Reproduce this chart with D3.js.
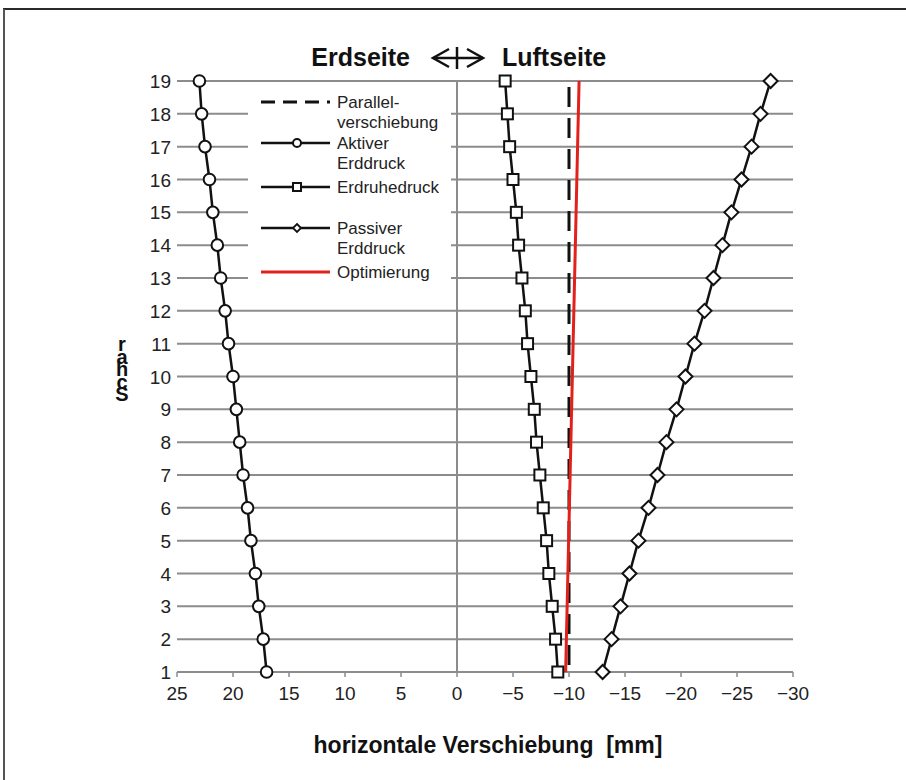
<!DOCTYPE html>
<html><head><meta charset="utf-8">
<script src="https://cdn.jsdelivr.net/npm/d3@7"></script>
<style>
html,body{margin:0;padding:0;background:#fff;}
svg{display:block;font-family:"Liberation Sans",Arial,sans-serif;}
</style></head>
<body>
<svg id="c" width="906" height="780"></svg>
<script>
// ---- data ----
const rows = [1,2,3,4,5,6,7,8,9,10,11,12,13,14,15,16,17,18,19];
const aktiver = [17.0,17.3,17.7,18.0,18.4,18.7,19.1,19.4,19.7,20.0,20.4,20.7,21.1,21.4,21.8,22.1,22.5,22.8,23.0];
const erdruhe = [-9.0,-8.8,-8.5,-8.2,-8.0,-7.7,-7.4,-7.1,-6.9,-6.6,-6.3,-6.1,-5.8,-5.5,-5.3,-5.0,-4.7,-4.5,-4.3];
const passiver = [-13.0,-13.8,-14.6,-15.4,-16.2,-17.1,-17.9,-18.7,-19.6,-20.4,-21.2,-22.1,-22.9,-23.7,-24.5,-25.4,-26.3,-27.1,-28.0];
const parallelRows = [1,19];
const parallel = [-10,-10];
const optRows = [1,19];
const optimierung = [-9.7,-10.9];
const xTicks = [25,20,15,10,5,0,-5,-10,-15,-20,-25,-30];
const legendLabels = [["Parallel-","verschiebung"],["Aktiver","Erddruck"],["Erdruhedruck"],["Passiver","Erddruck"],["Optimierung"]];
const yTitle = "rahcS";

const svg = d3.select("#c");
const x = d3.scaleLinear().domain([25,-30]).range([177,793]);
const y = d3.scaleLinear().domain([1,19]).range([672,81]);

// frame (top/left)
svg.append("line").attr("x1",3).attr("x2",906).attr("y1",9).attr("y2",9).attr("stroke","#2a2a2a").attr("stroke-width",2);
svg.append("line").attr("x1",4).attr("x2",4).attr("y1",9).attr("y2",780).attr("stroke","#555").attr("stroke-width",2);

// gridlines
svg.append("g").selectAll("line").data(rows).join("line")
  .attr("x1",x(25)).attr("x2",x(-30)).attr("y1",d=>y(d)).attr("y2",d=>y(d))
  .attr("stroke","#8c8c8c").attr("stroke-width",2);
// x ticks
svg.append("g").selectAll("line").data(xTicks).join("line")
  .attr("x1",d=>x(d)).attr("x2",d=>x(d)).attr("y1",y(1)).attr("y2",y(1)+5)
  .attr("stroke","#8c8c8c").attr("stroke-width",1.5);
// zero axis
svg.append("line").attr("x1",x(0)).attr("x2",x(0)).attr("y1",y(19)).attr("y2",y(1))
  .attr("stroke","#8c8c8c").attr("stroke-width",2);

// tick labels
svg.append("g").selectAll("text").data(xTicks).join("text")
  .attr("x",d=>x(d)).attr("y",700).attr("text-anchor","middle")
  .attr("font-size",19).attr("fill","#222").text(d=>d3.format("d")(d));
svg.append("g").selectAll("text").data(rows).join("text")
  .attr("x",171).attr("y",d=>y(d)+7).attr("text-anchor","end")
  .attr("font-size",19).attr("fill","#222").text(d=>d);

// legend background
const lg = svg.append("g");
lg.append("rect").attr("x",248).attr("y",89).attr("width",203).attr("height",200).attr("fill","#fff");

// series
const line = d3.line().x(d=>x(d[0])).y(d=>y(d[1]));
svg.append("path").datum(d3.zip(parallel,parallelRows)).attr("d",line)
  .attr("fill","none").attr("stroke","#111").attr("stroke-width",3)
  .attr("stroke-dasharray","20,11").attr("stroke-dashoffset",24);
svg.append("path").datum(d3.zip(optimierung,optRows)).attr("d",line)
  .attr("fill","none").attr("stroke","#e3211c").attr("stroke-width",3);

function series(vals, kind){
  const pts = d3.zip(vals, rows);
  svg.append("path").datum(pts).attr("d",line)
    .attr("fill","none").attr("stroke","#111").attr("stroke-width",2.5);
  const g = svg.append("g");
  if(kind==="circle"){
    g.selectAll("circle").data(pts).join("circle")
      .attr("cx",d=>x(d[0])).attr("cy",d=>y(d[1])).attr("r",5.8)
      .attr("fill","#fff").attr("stroke","#111").attr("stroke-width",2);
  } else if(kind==="square"){
    g.selectAll("rect").data(pts).join("rect")
      .attr("x",d=>x(d[0])-5.5).attr("y",d=>y(d[1])-5.5).attr("width",11).attr("height",11)
      .attr("fill","#fff").attr("stroke","#111").attr("stroke-width",2);
  } else {
    g.selectAll("path").data(pts).join("path")
      .attr("d",d=>{const cx=x(d[0]),cy=y(d[1]),r=7;return `M${cx},${cy-r}L${cx+r},${cy}L${cx},${cy+r}L${cx-r},${cy}Z`;})
      .attr("fill","#fff").attr("stroke","#111").attr("stroke-width",2);
  }
}
series(aktiver,"circle");
series(erdruhe,"square");
series(passiver,"diamond");

// legend entries
const legY = [102,143,187,228,272];
const lx1=261, lx2=330, lmx=297;
legY.forEach((ly,i)=>{
  const l = lg.append("line").attr("x1",lx1).attr("x2",lx2).attr("y1",ly).attr("y2",ly)
    .attr("stroke", i===4?"#e3211c":"#111").attr("stroke-width",i===4?3:2.5);
  if(i===0) l.attr("stroke-dasharray","14,8").attr("stroke-width",3);
  if(i===1) lg.append("circle").attr("cx",lmx).attr("cy",ly).attr("r",4).attr("fill","#fff").attr("stroke","#111").attr("stroke-width",2);
  if(i===2) lg.append("rect").attr("x",lmx-4).attr("y",ly-4).attr("width",8).attr("height",8).attr("fill","#fff").attr("stroke","#111").attr("stroke-width",2);
  if(i===3) lg.append("path").attr("d",`M${lmx},${ly-4}L${lmx+4},${ly}L${lmx},${ly+4}L${lmx-4},${ly}Z`).attr("fill","#fff").attr("stroke","#111").attr("stroke-width",1.8);
  legendLabels[i].forEach((t,j)=>{
    lg.append("text").attr("x",337).attr("y",ly+6+j*20).attr("font-size",17).attr("fill","#222").text(t);
  });
});

// title
svg.append("text").attr("x",410).attr("y",66).attr("text-anchor","end").attr("font-size",25).attr("font-weight","bold").attr("fill","#111").text("Erdseite");
svg.append("text").attr("x",502).attr("y",66).attr("text-anchor","start").attr("font-size",25).attr("font-weight","bold").attr("fill","#111").text("Luftseite");
const ar = svg.append("g").attr("fill","none").attr("stroke","#111").attr("stroke-width",2.5);
ar.append("path").attr("d","M449,49 L433,58 L449,67");
ar.append("path").attr("d","M467,49 L483,58 L467,67");
ar.append("path").attr("d","M433,58 L483,58");
ar.append("path").attr("d",`M${x(0)},47 L${x(0)},69`);

// axis titles
svg.append("text").attr("x",488).attr("y",753).attr("text-anchor","middle").attr("font-size",23).attr("font-weight","bold").attr("fill","#111").attr("xml:space","preserve").style("white-space","pre").text("horizontale Verschiebung  [mm]");
svg.append("text").attr("x",122).attr("y",333).attr("font-size",20).attr("font-weight","bold").attr("fill","#111")
  .style("writing-mode","vertical-rl").style("text-orientation","upright").style("letter-spacing","-9.5px")
  .text(yTitle);
</script>
</body></html>
